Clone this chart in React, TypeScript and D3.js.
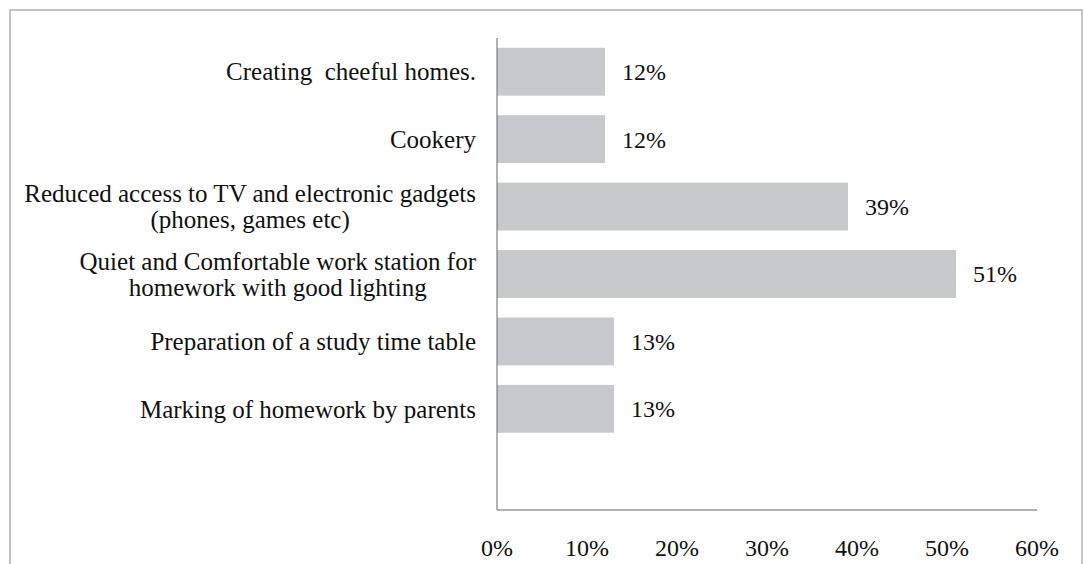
import * as d3 from 'd3';
import * as React from 'react';
import { useEffect, useRef } from 'react';

const categories = [
  'Creating  cheeful homes.',
  'Cookery',
  'Reduced access to TV and electronic gadgets\n(phones, games etc)',
  'Quiet and Comfortable work station for\nhomework with good lighting',
  'Preparation of a study time table',
  'Marking of homework by parents',
];
const values = [12, 12, 39, 51, 13, 13];
const xTicks = [0, 10, 20, 30, 40, 50, 60];

const W = 1084;
const H = 564;
const FONT = '"Liberation Serif", "Times New Roman", serif';

export default function App() {
  const ref = useRef<SVGSVGElement | null>(null);

  useEffect(() => {
    const svg = d3.select(ref.current);
    svg.selectAll('*').remove();

    const x = d3.scaleLinear().domain([0, 60]).range([497, 1037]);
    // one empty slot at the bottom, as in the original plot area
    const y = d3.scaleBand<string>()
      .domain(categories.concat(['']))
      .range([38, 510])
      .paddingInner(0.29)
      .paddingOuter(0.145);

    // outer frame
    svg.append('rect')
      .attr('x', 10).attr('y', 10)
      .attr('width', 1072).attr('height', 600)
      .attr('fill', 'none')
      .attr('stroke', '#8a8a8a')
      .attr('stroke-width', 1);

    // bars
    svg.append('g')
      .selectAll('rect')
      .data(categories)
      .join('rect')
      .attr('x', x(0))
      .attr('y', (d) => y(d) as number)
      .attr('width', (d, i) => x(values[i]) - x(0))
      .attr('height', y.bandwidth())
      .attr('fill', '#c7c8cb');

    // value labels
    svg.append('g')
      .selectAll('text')
      .data(categories)
      .join('text')
      .attr('x', (d, i) => x(values[i]) + 17)
      .attr('y', (d) => (y(d) as number) + y.bandwidth() / 2)
      .attr('dy', '0.35em')
      .attr('font-family', FONT)
      .attr('font-size', 24)
      .attr('fill', '#111')
      .text((d, i) => values[i] + '%');

    // axes lines
    svg.append('line')
      .attr('x1', x(0)).attr('x2', x(0))
      .attr('y1', 38).attr('y2', 510)
      .attr('stroke', '#666').attr('stroke-width', 1);
    svg.append('line')
      .attr('x1', x(0)).attr('x2', x(60))
      .attr('y1', 510).attr('y2', 510)
      .attr('stroke', '#666').attr('stroke-width', 1);

    // x tick labels
    svg.append('g')
      .selectAll('text')
      .data(xTicks)
      .join('text')
      .attr('x', (d) => x(d))
      .attr('y', 548)
      .attr('dy', '0.35em')
      .attr('text-anchor', 'middle')
      .attr('font-family', FONT)
      .attr('font-size', 24)
      .attr('fill', '#111')
      .text((d) => d + '%');

    // category labels, multi-line centred within a right-aligned block
    const labelRight = 476;
    const lineH = 26;
    const lg = svg.append('g');
    categories.forEach((c) => {
      const lines = c.split('\n');
      const cy = (y(c) as number) + y.bandwidth() / 2;
      const t = lg.append('text')
        .attr('font-family', FONT)
        .attr('font-size', 25)
        .attr('fill', '#111')
        .attr('text-anchor', 'middle')
        .style('white-space', 'pre');
      const spans = lines.map((ln, k) =>
        t.append('tspan')
          .attr('y', cy + (k - (lines.length - 1) / 2) * lineH)
          .attr('dy', '0.35em')
          .text(ln)
      );
      const maxW = d3.max(spans, (s) => (s.node() as SVGTSpanElement).getComputedTextLength()) || 0;
      spans.forEach((s) => s.attr('x', labelRight - maxW / 2));
    });
  }, []);

  return (
    <svg
      ref={ref}
      width={W}
      height={H}
      style={{ position: 'absolute', left: 0, top: 0, background: '#fff' }}
    />
  );
}
